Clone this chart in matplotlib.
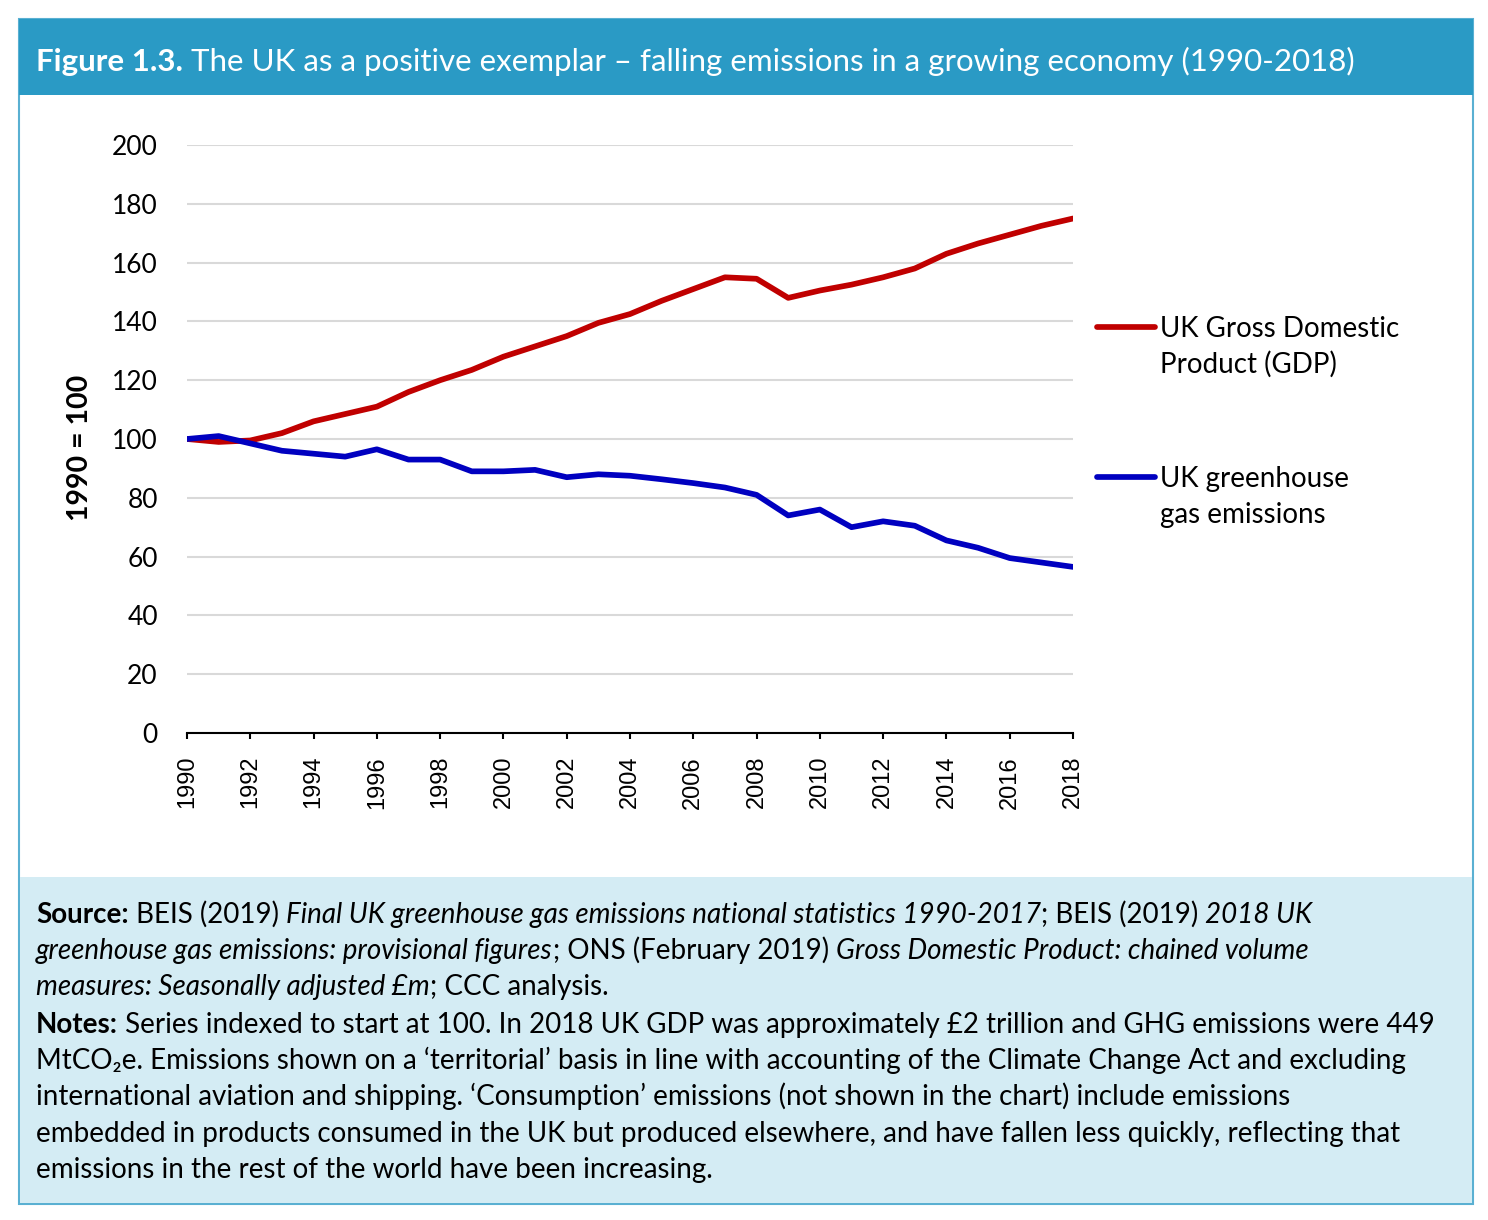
import matplotlib
matplotlib.use("Agg")
import matplotlib.pyplot as plt
from matplotlib.patches import Rectangle
from matplotlib.lines import Line2D

years = list(range(1990, 2019))
gdp = [100, 99, 99.5, 102, 106, 108.5, 111, 116, 120, 123.5, 128, 131.5, 135,
       139.5, 142.5, 147, 151, 155, 154.5, 148, 150.5, 152.5, 155, 158, 163,
       166.5, 169.5, 172.5, 175]
ghg = [100, 101, 98.5, 96, 95, 94, 96.5, 93, 93, 89, 89, 89.5, 87, 88, 87.5,
       86.3, 85, 83.5, 81, 74, 76, 70, 72, 70.5, 65.5, 63, 59.5, 58, 56.5]
series_labels = [["UK Gross Domestic", "Product (GDP)"], ["UK greenhouse", "gas emissions"]]
series_colors = ["#C00000", "#0000C0"]
y_ticks = list(range(0, 201, 20))
x_ticks = list(range(1990, 2019, 2))

title_bold = "Figure 1.3."
title_rest = " The UK as a positive exemplar \u2013 falling emissions in a growing economy (1990-2018)"
y_label = "1990 = 100"

FAM = ["Lato", "DejaVu Sans"]
W, H = 1488, 1220
fig = plt.figure(figsize=(W / 100, H / 100), dpi=100)

def fx(px):
    return px / W

def fy(py):
    return 1 - py / H

# Frame, title band, footer band
fig.patches.append(Rectangle((fx(19), fy(1204)), fx(1473 - 19), (1204 - 19) / H,
                             transform=fig.transFigure, facecolor="white",
                             edgecolor="#5AB0D2", lw=1.5, zorder=0))
fig.patches.append(Rectangle((fx(19), fy(95)), fx(1473 - 19), (95 - 19) / H,
                             transform=fig.transFigure, facecolor="#2A9AC5",
                             edgecolor="none", zorder=1))
fig.patches.append(Rectangle((fx(20), fy(1203)), fx(1472 - 20), (1203 - 877) / H,
                             transform=fig.transFigure, facecolor="#D4ECF4",
                             edgecolor="none", zorder=1))

ax = fig.add_axes([fx(187), fy(733), fx(1073 - 187), (733 - 145) / H])
ax.set_zorder(3)
ax.patch.set_alpha(0)
ax.plot(years, gdp, color=series_colors[0], lw=4.1, solid_capstyle="round", zorder=3)
ax.plot(years, ghg, color=series_colors[1], lw=4.1, solid_capstyle="round", zorder=4)
ax.set_xlim(1990, 2018)
ax.set_ylim(0, 200)
ax.set_yticks(y_ticks)
ax.set_xticks(x_ticks)
ax.set_xticklabels([str(v) for v in x_ticks], rotation=90, fontsize=17,
                   family="Liberation Sans")
ax.set_yticklabels([str(v) for v in y_ticks], fontsize=19, family=FAM)
for s in ["left", "right", "top"]:
    ax.spines[s].set_visible(False)
ax.spines["bottom"].set_color("black")
ax.spines["bottom"].set_linewidth(1.5)
ax.tick_params(axis="y", length=0, pad=21)
ax.tick_params(axis="x", length=4.5, width=1.5, direction="out", pad=12)
ax.yaxis.grid(True, color="#D9D9D9", lw=1.5)
ax.set_axisbelow(True)
ax.set_ylabel(y_label, fontsize=20.5, fontweight="bold", family=FAM)
ax.yaxis.set_label_coords((93 - 187) / (1073 - 187), (733 - 448) / (733 - 145))

# Legend (keys drawn beside the plot, text aligned with first line)
for lab, col, ycen in zip(series_labels, series_colors, [327, 477]):
    fig.add_artist(Line2D([fx(1097), fx(1155)], [fy(ycen), fy(ycen)], color=col,
                          lw=4.1, solid_capstyle="round", transform=fig.transFigure))
    for k, line in enumerate(lab):
        fig.text(fx(1160), fy(ycen + 10 + 36 * k), line, fontsize=20, family=FAM,
                 va="baseline", ha="left", color="black")

# Text runs helper
fig.canvas.draw()
renderer = fig.canvas.get_renderer()

def runs(xpx, ypx, parts, size, color="black"):
    x = fx(xpx)
    for text, weight, style in parts:
        t = fig.text(x, fy(ypx), text, fontsize=size, fontweight=weight,
                     fontstyle=style, family=FAM, color=color, va="baseline",
                     ha="left", zorder=5)
        bb = t.get_window_extent(renderer)
        x += bb.width / W

runs(36, 71, [(title_bold, "bold", "normal"), (title_rest, "normal", "normal")],
     22.5, "white")

R, B, I = ("normal", "normal"), ("bold", "normal"), ("normal", "italic")
FS = 20
lines = [
    [("Source:", *B), (" BEIS (2019) ", *R),
     ("Final UK greenhouse gas emissions national statistics 1990-2017", *I),
     ("; BEIS (2019) ", *R), ("2018 UK", *I)],
    [("greenhouse gas emissions: provisional figures", *I),
     ("; ONS (February 2019) ", *R),
     ("Gross Domestic Product: chained volume", *I)],
    [("measures: Seasonally adjusted \u00a3m", *I), ("; CCC analysis.", *R)],
    [("Notes:", *B), (" Series indexed to start at 100. In 2018 UK GDP was approximately "
                     "\u00a32 trillion and GHG emissions were 449", *R)],
    [("MtCO\u2082e. Emissions shown on a \u2018territorial\u2019 basis in line with "
      "accounting of the Climate Change Act and excluding", *R)],
    [("international aviation and shipping. \u2018Consumption\u2019 emissions (not shown "
      "in the chart) include emissions", *R)],
    [("embedded in products consumed in the UK but produced elsewhere, and have "
      "fallen less quickly, reflecting that", *R)],
    [("emissions in the rest of the world have been increasing.", *R)],
]
baselines = [923, 959, 995, 1033, 1069, 1105, 1142, 1178]
for ln, yb in zip(lines, baselines):
    runs(36, yb, ln, FS)

fig.savefig("out.png", dpi=100)
